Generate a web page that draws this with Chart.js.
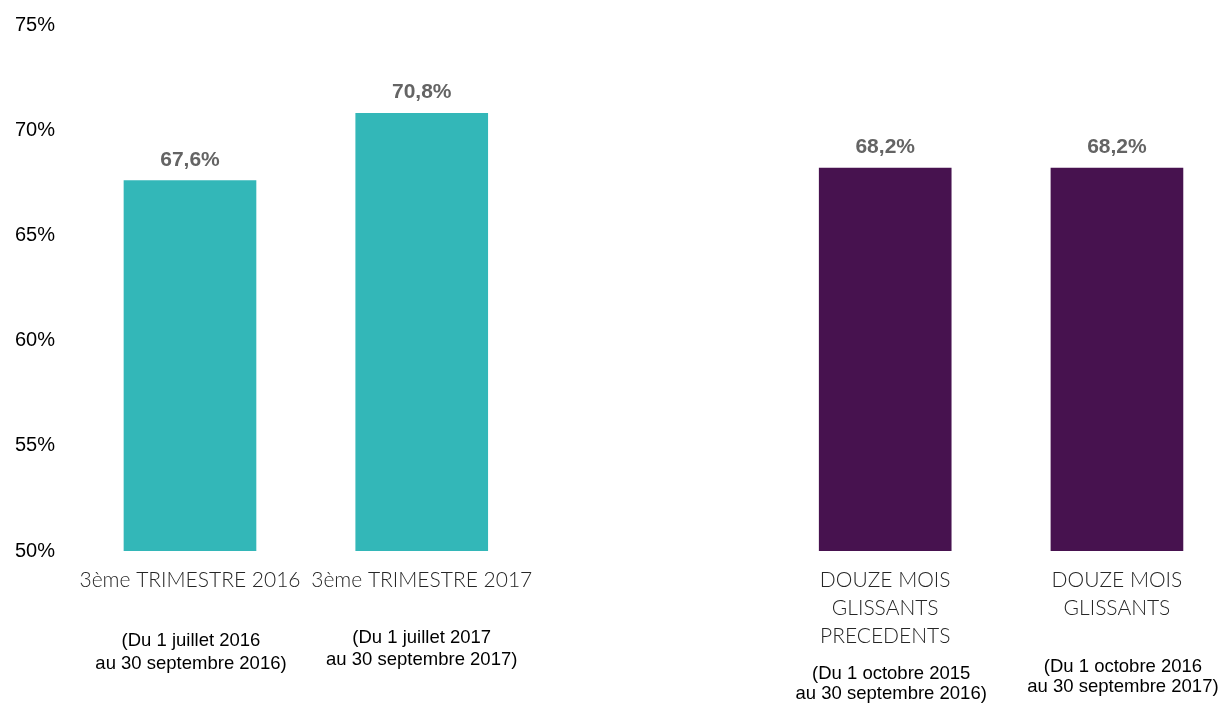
<!DOCTYPE html>
<html>
<head>
<meta charset="utf-8">
<script src="https://cdn.jsdelivr.net/npm/chart.js@4"></script>
<style>
html,body{margin:0;padding:0;background:#fff;overflow:hidden}
#wrap{width:1220px;height:704px;position:relative}
</style>
</head>
<body>
<div id="wrap"><canvas id="c"></canvas></div>
<script>
// ---- data ----
const categories = [
  ['3ème TRIMESTRE 2016'],
  ['3ème TRIMESTRE 2017'],
  [],
  ['DOUZE MOIS', 'GLISSANTS', 'PRECEDENTS'],
  ['DOUZE MOIS', 'GLISSANTS']
];
const periods = [
  ['(Du 1 juillet 2016', 'au 30 septembre 2016)'],
  ['(Du 1 juillet 2017', 'au 30 septembre 2017)'],
  [],
  ['(Du 1 octobre 2015', 'au 30 septembre 2016)'],
  ['(Du 1 octobre 2016', 'au 30 septembre 2017)']
];
const values = [67.6, 70.8, null, 68.2, 68.2];
const yTicks = [50, 55, 60, 65, 70, 75];

// ---- style ----
const TEAL = '#33B7B8';
const PURPLE = '#47124F';
const barColors = [TEAL, TEAL, TEAL, PURPLE, PURPLE];
const periodStyle = { dy: [90, 87, 0, 123, 116], dx: [1, 0, 0, 6, 6], gap: [23, 22, 0, 20, 20] };

const fmt = v => v.toFixed(1).replace('.', ',') + '%';

const valueLabelPlugin = {
  id: 'valueLabels',
  afterDatasetsDraw(chart) {
    const ctx = chart.ctx;
    const meta = chart.getDatasetMeta(0);
    ctx.save();
    ctx.font = 'bold 21px "Liberation Sans", Arial, sans-serif';
    ctx.fillStyle = '#646464';
    ctx.textAlign = 'center';
    ctx.textBaseline = 'alphabetic';
    meta.data.forEach((bar, i) => {
      if (values[i] == null) return;
      ctx.fillText(fmt(values[i]), bar.x, bar.y - 15);
    });
    ctx.restore();
  }
};

const periodPlugin = {
  id: 'periods',
  afterDraw(chart) {
    const ctx = chart.ctx;
    const xs = chart.scales.x;
    const bottom = chart.chartArea.bottom;
    ctx.save();
    ctx.font = '18.5px "Liberation Sans", Arial, sans-serif';
    ctx.fillStyle = '#000';
    ctx.textAlign = 'center';
    ctx.textBaseline = 'middle';
    periods.forEach((lines, i) => {
      const x = xs.getPixelForValue(i) + periodStyle.dx[i];
      lines.forEach((t, k) => {
        ctx.fillText(t, x, bottom + periodStyle.dy[i] + k * periodStyle.gap[i]);
      });
    });
    ctx.restore();
  }
};

new Chart(document.getElementById('c'), {
  type: 'bar',
  data: {
    datasets: [{
      data: values.map((v, i) => ({ x: i, y: v })),
      backgroundColor: barColors,
      borderWidth: 0,
      barThickness: 132
    }]
  },
  options: {
    responsive: true,
    maintainAspectRatio: false,
    animation: false,
    layout: { padding: { top: 25, right: 0, bottom: 0, left: 0 } },
    plugins: { legend: { display: false }, tooltip: { enabled: false } },
    scales: {
      x: {
        type: 'linear',
        offset: false,
        min: -0.5523,
        max: 4.4447,
        grid: { display: false, drawTicks: false, offset: false },
        border: { display: false },
        afterBuildTicks: axis => { axis.ticks = categories.map((_, i) => ({ value: i })); },
        afterFit: axis => { axis.height = 153; },
        ticks: {
          autoSkip: false,
          maxRotation: 0,
          minRotation: 0,
          padding: 15,
          color: '#262626',
          font: { family: 'Lato', weight: '300', size: 21, lineHeight: 28 / 21 },
          callback: v => categories[v] || ''
        }
      },
      y: {
        min: 50,
        max: 75,
        grid: { display: false, drawTicks: false },
        border: { display: false },
        afterBuildTicks: axis => { axis.ticks = yTicks.map(v => ({ value: v })); },
        afterFit: axis => { axis.width = 62; },
        ticks: {
          padding: 7,
          color: '#000',
          font: { family: '"Liberation Sans", Arial, sans-serif', size: 20 },
          callback: v => v + '%'
        }
      }
    }
  },
  plugins: [valueLabelPlugin, periodPlugin]
});
</script>
</body>
</html>
